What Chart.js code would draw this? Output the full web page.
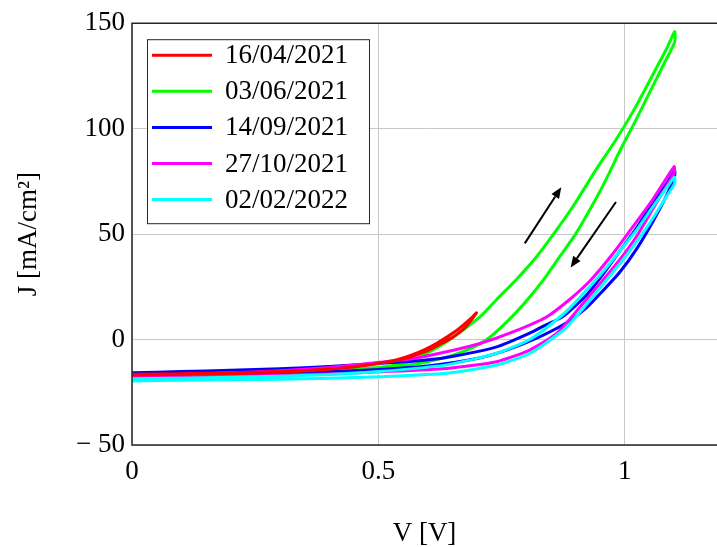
<!DOCTYPE html>
<html>
<head>
<meta charset="utf-8">
<script src="https://cdn.jsdelivr.net/npm/chart.js@4.4.0/dist/chart.umd.min.js"></script>
<style>
  html, body { margin: 0; padding: 0; background: #fff; }
  #c { display: block; }
</style>
</head>
<body>
<canvas id="c" width="717" height="547"></canvas>
<script>
const labels = ['16/04/2021', '03/06/2021', '14/09/2021', '27/10/2021', '02/02/2022'];
const colors = ['#ff0000', '#00ff00', '#0000ff', '#ff00ff', '#00ffff'];
// lower number = drawn on top
const drawOrder = [0, 4, 3, 2, 1];

// each sweep: forward then back, V [V] / J [mA/cm2]
const apr16V = [0, 0.1, 0.2, 0.3, 0.4, 0.45, 0.5, 0.55, 0.6, 0.625, 0.65, 0.675, 0.699, 0.69, 0.66, 0.62, 0.58, 0.53, 0.45, 0.3, 0.15, 0];
const apr16J = [-16.5, -16.2, -15.8, -15.2, -14.0, -12.9, -11.3, -9.2, -5.2, -2.2, 1.0, 5.5, 12.7, 10.5, 4.5, -1.5, -6.2, -10.0, -13.0, -15.5, -16.3, -16.8];

const jun03V = [0, 0.1, 0.2, 0.3, 0.4, 0.5, 0.537, 0.57, 0.604, 0.638, 0.671, 0.706, 0.74, 0.78, 0.82, 0.86, 0.9, 0.94, 0.98, 1.02, 1.06, 1.085, 1.101,
                1.101, 1.08, 1.05, 1.02, 0.99, 0.96, 0.93, 0.9, 0.87, 0.84, 0.81, 0.78, 0.75, 0.72, 0.69, 0.65, 0.6, 0.55, 0.5, 0.4, 0.3, 0.2, 0.1, 0];
const jun03J = [-17, -16.8, -16.4, -15.8, -14.9, -13.2, -12.1, -9.8, -5.8, -1.1, 4.4, 10.7, 19, 28.5, 39, 51.5, 65, 80, 94, 109.5, 127, 138, 146,
                141, 131, 117, 103, 89.5, 75, 62, 50, 40, 30, 21, 13, 6, 0, -4, -7.5, -10.5, -12.5, -13.7, -15.5, -16.3, -16.8, -17.2, -17.5];

const sep14V = [0, 0.1, 0.2, 0.3, 0.4, 0.5, 0.6, 0.7, 0.76, 0.82, 0.88, 0.922, 0.955, 0.99, 1.024, 1.057, 1.085, 1.101,
                1.101, 1.085, 1.057, 1.024, 0.99, 0.956, 0.922, 0.875, 0.84, 0.807, 0.74, 0.638, 0.57, 0.5, 0.4, 0.3, 0.2, 0.1, 0];
const sep14J = [-17, -16.8, -16.5, -16, -15.3, -14.2, -12.5, -9, -5, 0.5, 7.7, 15, 23, 32, 43, 56, 68.5, 77.5,
                80, 74, 65, 53, 42, 31, 21, 11, 7, 3, -3.5, -8.5, -10.3, -11.3, -12.8, -13.8, -14.6, -15.2, -15.8];

const oct27V = [0, 0.1, 0.2, 0.3, 0.4, 0.503, 0.571, 0.638, 0.706, 0.773, 0.841, 0.888, 0.93, 0.97, 1.01, 1.057, 1.1,
                1.1, 1.08, 1.057, 1.024, 0.99, 0.955, 0.909, 0.861, 0.807, 0.74, 0.638, 0.503, 0.4, 0.3, 0.2, 0.1, 0];
const oct27J = [-17.2, -16.6, -15.8, -14.8, -13.2, -10.8, -9, -5.8, -1.9, 3.6, 10.7, 19, 28, 39, 51.5, 66.5, 82,
                79, 71, 62, 49, 38, 28, 15.4, 2.8, -5, -10.5, -13.7, -15.3, -16.3, -16.9, -17.3, -17.6, -18];

const feb02V = [0, 0.1, 0.2, 0.3, 0.4, 0.503, 0.638, 0.74, 0.807, 0.875, 0.909, 0.955, 1.0, 1.05, 1.085, 1.101,
                1.101, 1.085, 1.057, 1.024, 0.99, 0.955, 0.909, 0.875, 0.807, 0.74, 0.638, 0.5, 0.4, 0.3, 0.2, 0.1, 0];
const feb02J = [-19.6, -19.3, -19.1, -18.8, -18.3, -17.6, -16, -12.1, -6.6, 4.4, 13, 26, 39, 55, 68, 74,
                77, 72, 63, 52, 42, 32, 20, 12, 0, -6.5, -12, -15.2, -16.6, -17.4, -17.9, -18.3, -18.6];

const sweepsV = [apr16V, jun03V, sep14V, oct27V, feb02V];
const sweepsJ = [apr16J, jun03J, sep14J, oct27J, feb02J];

const xTicks = [0, 0.5, 1];
const yTicks = [-50, 0, 50, 100, 150];

// scan direction arrows, [V tail, J tail, V head, J head]
const arrows = [[0.797, 45.6, 0.871, 72.2], [0.982, 65.2, 0.890, 34.2]];

const serif = "'Liberation Serif', 'Times New Roman', serif";

const overlay = {
  id: 'overlay',
  afterDatasetsDraw(chart) {
    const {ctx, chartArea: a, scales: {x, y}} = chart;
    ctx.save();
    ctx.strokeStyle = '#000';
    ctx.fillStyle = '#000';
    ctx.lineWidth = 2;
    arrows.forEach(([v0, j0, v1, j1]) => {
      const x0 = x.getPixelForValue(v0), y0 = y.getPixelForValue(j0);
      const x1 = x.getPixelForValue(v1), y1 = y.getPixelForValue(j1);
      const ang = Math.atan2(y1 - y0, x1 - x0);
      const hl = 11, hw = 4.5;
      const bx = x1 - hl * Math.cos(ang), by = y1 - hl * Math.sin(ang);
      ctx.beginPath(); ctx.moveTo(x0, y0); ctx.lineTo(bx, by); ctx.stroke();
      ctx.beginPath();
      ctx.moveTo(x1, y1);
      ctx.lineTo(bx + hw * Math.sin(ang), by - hw * Math.cos(ang));
      ctx.lineTo(bx - hw * Math.sin(ang), by + hw * Math.cos(ang));
      ctx.closePath();
      ctx.fill();
    });

    // frame: top, left, bottom (right edge is off the page)
    ctx.strokeStyle = '#262626';
    ctx.lineWidth = 1.5;
    ctx.beginPath();
    ctx.moveTo(a.right + 2, a.top);
    ctx.lineTo(a.left, a.top);
    ctx.lineTo(a.left, a.bottom);
    ctx.lineTo(a.right + 2, a.bottom);
    ctx.stroke();

    // legend box inside the plot
    const lx = a.left + 15, ly = a.top + 16, lw = 222, lh = 184;
    ctx.fillStyle = '#fff';
    ctx.fillRect(lx, ly, lw, lh);
    ctx.strokeStyle = '#262626';
    ctx.lineWidth = 1;
    ctx.strokeRect(lx + 0.5, ly + 0.5, lw, lh);
    ctx.font = '27px ' + serif;
    ctx.textBaseline = 'middle';
    ctx.textAlign = 'left';
    chart.data.datasets.forEach((ds, i) => {
      const ry = ly + 16 + i * 36.1;
      ctx.strokeStyle = ds.borderColor;
      ctx.lineWidth = 3;
      ctx.beginPath(); ctx.moveTo(lx + 5, ry); ctx.lineTo(lx + 65, ry); ctx.stroke();
      ctx.fillStyle = '#000';
      ctx.fillText(ds.label, lx + 78, ry + 1);
    });
    ctx.restore();
  }
};

new Chart(document.getElementById('c'), {
  type: 'scatter',
  data: {
    datasets: labels.map((lab, i) => ({
      label: lab,
      data: sweepsV[i].map((v, k) => ({x: v, y: sweepsJ[i][k]})),
      borderColor: colors[i],
      backgroundColor: colors[i],
      showLine: true,
      borderWidth: 3,
      pointRadius: 0,
      tension: 0.2,
      order: drawOrder[i]
    }))
  },
  options: {
    responsive: false,
    animation: false,
    devicePixelRatio: 1,
    layout: { padding: { top: 21, right: 0, left: 0, bottom: 0 } },
    plugins: { legend: { display: false }, tooltip: { enabled: false } },
    scales: {
      x: {
        type: 'linear',
        min: 0,
        max: 1.187,
        afterFit(s) { s.height = 102; },
        afterBuildTicks(s) { s.ticks = xTicks.map(v => ({value: v})); },
        ticks: {
          color: '#000',
          padding: 11,
          font: { family: serif, size: 27 },
          callback: v => String(v)
        },
        grid: { color: '#c8c8c8', lineWidth: 1, drawTicks: false },
        border: { display: false },
        title: {
          display: true,
          text: 'V [V]',
          color: '#000',
          font: { family: serif, size: 27, lineHeight: 1 },
          padding: { top: 0, bottom: 0 }
        }
      },
      y: {
        type: 'linear',
        min: -50,
        max: 150,
        afterFit(s) { s.width = 132; },
        afterBuildTicks(s) { s.ticks = yTicks.map(v => ({value: v})); },
        ticks: {
          color: '#000',
          padding: 7,
          font: { family: serif, size: 27 },
          callback: v => v < 0 ? '\u2212 ' + Math.abs(v) : String(v)
        },
        grid: { color: '#c8c8c8', lineWidth: 1, drawTicks: false },
        border: { display: false },
        title: {
          display: true,
          text: 'J [mA/cm²]',
          color: '#000',
          font: { family: serif, size: 27, lineHeight: 1 },
          padding: { top: 15, bottom: 0 }
        }
      }
    }
  },
  plugins: [overlay]
});
</script>
</body>
</html>
